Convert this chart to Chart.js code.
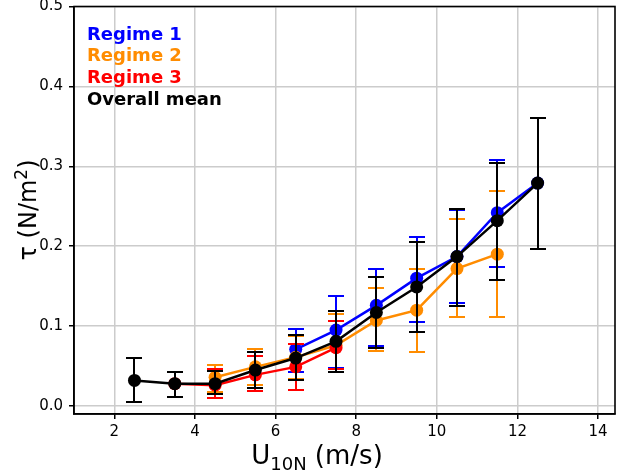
<!DOCTYPE html>
<html><head><meta charset="utf-8">
<script src="https://cdn.jsdelivr.net/npm/chart.js@4/dist/chart.umd.min.js"></script>
<style>html,body{margin:0;padding:0;background:#fff;}#wrap{width:630px;height:472px;position:relative;}</style>
</head><body><div id="wrap"><canvas id="c" width="630" height="472"></canvas></div>
<script>
// ---- data ----
const xTicks = [2, 4, 6, 8, 10, 12, 14];
const yTicks = [0.0, 0.1, 0.2, 0.3, 0.4, 0.5];

const seriesLabels = ['Regime 1', 'Regime 2', 'Regime 3', 'Overall mean'];
const seriesColors = ['#0000ff', '#ff8c00', '#ff0000', '#000000'];

const uRegime1 = [6.5, 7.5, 8.5, 9.5, 10.5, 11.5, 12.5];
const tauRegime1 = [0.071, 0.095, 0.126, 0.160, 0.187, 0.242, 0.279];
const tauRegime1Low = [0.043, 0.048, 0.075, 0.105, 0.129, 0.174, 0.197];
const tauRegime1High = [0.097, 0.138, 0.172, 0.212, 0.245, 0.308, 0.360];

const uRegime2 = [4.5, 5.5, 6.5, 7.5, 8.5, 9.5, 10.5, 11.5];
const tauRegime2 = [0.036, 0.049, 0.061, 0.076, 0.107, 0.120, 0.172, 0.190];
const tauRegime2Low = [0.018, 0.026, 0.034, 0.046, 0.069, 0.067, 0.112, 0.111];
const tauRegime2High = [0.051, 0.071, 0.087, 0.115, 0.148, 0.172, 0.234, 0.269];

const uRegime3 = [3.5, 4.5, 5.5, 6.5, 7.5];
const tauRegime3 = [0.028, 0.026, 0.039, 0.049, 0.073];
const tauRegime3Low = [0.011, 0.0095, 0.019, 0.020, 0.046];
const tauRegime3High = [0.043, 0.046, 0.062, 0.0775, 0.106];

const uOverall = [2.5, 3.5, 4.5, 5.5, 6.5, 7.5, 8.5, 9.5, 10.5, 11.5, 12.5];
const tauOverall = [0.032, 0.028, 0.028, 0.045, 0.060, 0.081, 0.117, 0.149, 0.187, 0.232, 0.279];
const tauOverallLow = [0.0055, 0.011, 0.0145, 0.023, 0.0325, 0.042, 0.072, 0.093, 0.125, 0.158, 0.197];
const tauOverallHigh = [0.060, 0.043, 0.044, 0.067, 0.089, 0.119, 0.162, 0.205, 0.246, 0.304, 0.360];

// ---- build datasets ----
const pts = (xs, ys) => xs.map((x, i) => ({x: x, y: ys[i]}));
const seriesX = [uRegime1, uRegime2, uRegime3, uOverall];
const seriesY = [tauRegime1, tauRegime2, tauRegime3, tauOverall];
const seriesLow = [tauRegime1Low, tauRegime2Low, tauRegime3Low, tauOverallLow];
const seriesHigh = [tauRegime1High, tauRegime2High, tauRegime3High, tauOverallHigh];

const datasets = seriesLabels.map((lab, k) => ({
  label: lab,
  data: pts(seriesX[k], seriesY[k]),
  errLow: seriesLow[k],
  errHigh: seriesHigh[k],
  borderColor: seriesColors[k],
  backgroundColor: seriesColors[k],
  pointBackgroundColor: seriesColors[k],
  pointBorderColor: seriesColors[k],
  pointBorderWidth: 0,
  pointRadius: 6.5,
  pointHoverRadius: 6.5,
  borderWidth: 2.5,
  tension: 0,
  fill: false,
  order: 3 - k
}));

const FONT = '"DejaVu Sans", "Liberation Sans", sans-serif';

const errorBars = {
  id: 'errorBars',
  beforeDatasetDraw(chart, args) {
    const ds = chart.data.datasets[args.index];
    const xs = chart.scales.x, ys = chart.scales.y, ctx = chart.ctx;
    ctx.save();
    ctx.strokeStyle = ds.borderColor;
    ctx.lineWidth = 2;
    const cap = 8;
    ds.data.forEach((p, i) => {
      const x = Math.round(xs.getPixelForValue(p.x));
      const yl = Math.round(ys.getPixelForValue(ds.errLow[i]));
      const yh = Math.round(ys.getPixelForValue(ds.errHigh[i]));
      ctx.beginPath();
      ctx.moveTo(x, yl); ctx.lineTo(x, yh);
      ctx.moveTo(x - cap, yl); ctx.lineTo(x + cap, yl);
      ctx.moveTo(x - cap, yh); ctx.lineTo(x + cap, yh);
      ctx.stroke();
    });
    ctx.restore();
  }
};

const frameAndText = {
  id: 'frameAndText',
  afterDraw(chart) {
    const ctx = chart.ctx, a = chart.chartArea;
    ctx.save();
    // frame
    ctx.strokeStyle = '#000';
    ctx.lineWidth = 1.6;
    ctx.strokeRect(a.left, a.top, a.right - a.left, a.bottom - a.top);
    // legend (text only)
    ctx.font = 'bold 18px ' + FONT;
    ctx.textAlign = 'left';
    ctx.textBaseline = 'alphabetic';
    chart.data.datasets.forEach((ds, k) => {
      ctx.fillStyle = ds.borderColor;
      ctx.fillText(ds.label, 87, 39.5 + k * 21.7);
    });
    // x title: U_10N (m/s)
    ctx.fillStyle = '#000';
    const big = '26px ' + FONT, small = '18px ' + FONT;
    ctx.font = big; const wU = ctx.measureText('U').width;
    ctx.font = small; const wS = ctx.measureText('10N').width;
    ctx.font = big; const wR = ctx.measureText(' (m/s)').width;
    let x0 = 317 - (wU + wS + wR) / 2;
    const by = 464;
    ctx.font = big; ctx.fillText('U', x0, by);
    ctx.font = small; ctx.fillText('10N', x0 + wU, by + 6);
    ctx.font = big; ctx.fillText(' (m/s)', x0 + wU + wS, by);
    // y title: τ (N/m²)
    ctx.translate(36, 210);
    ctx.rotate(-Math.PI / 2);
    const yb = '24px ' + FONT, ys = '17px ' + FONT;
    ctx.font = yb; const w1 = ctx.measureText('τ (N/m').width;
    ctx.font = ys; const w2 = ctx.measureText('2').width;
    ctx.font = yb; const w3 = ctx.measureText(')').width;
    let s = -(w1 + w2 + w3) / 2;
    ctx.font = yb; ctx.fillText('τ (N/m', s, 0);
    ctx.font = ys; ctx.fillText('2', s + w1, -9.5);
    ctx.font = yb; ctx.fillText(')', s + w1 + w2, 0);
    ctx.restore();
  }
};

new Chart(document.getElementById('c'), {
  type: 'line',
  data: { datasets: datasets },
  options: {
    responsive: false,
    animation: false,
    events: [],
    layout: { padding: { top: 6, right: 15, left: 0, bottom: 0 } },
    plugins: { legend: { display: false }, tooltip: { enabled: false }, title: { display: false } },
    scales: {
      x: {
        type: 'linear', min: 1, max: 14.42,
        afterBuildTicks: s => { s.ticks = xTicks.map(v => ({value: v})); },
        afterFit: s => { s.height = 58; s.paddingLeft = 0; s.paddingRight = 0; },
        ticks: { font: { family: FONT, size: 15 }, color: '#000', padding: 4, maxRotation: 0,
                 callback: v => String(v) },
        grid: { color: '#cccccc', lineWidth: 1.5, tickColor: '#000', tickLength: 5, tickWidth: 1.5 },
        border: { display: true, color: '#000', width: 1.6 }
      },
      y: {
        type: 'linear', min: -0.01, max: 0.5,
        afterBuildTicks: s => { s.ticks = yTicks.map(v => ({value: v})); },
        afterFit: s => { s.width = 74; s.paddingTop = 0; s.paddingBottom = 0; },
        ticks: { font: { family: FONT, size: 15 }, color: '#000', padding: 6,
                 callback: v => v.toFixed(1) },
        grid: { color: '#cccccc', lineWidth: 1.5, tickColor: '#000', tickLength: 5, tickWidth: 1.5 },
        border: { display: true, color: '#000', width: 1.6 }
      }
    }
  },
  plugins: [errorBars, frameAndText]
});
</script></body></html>
